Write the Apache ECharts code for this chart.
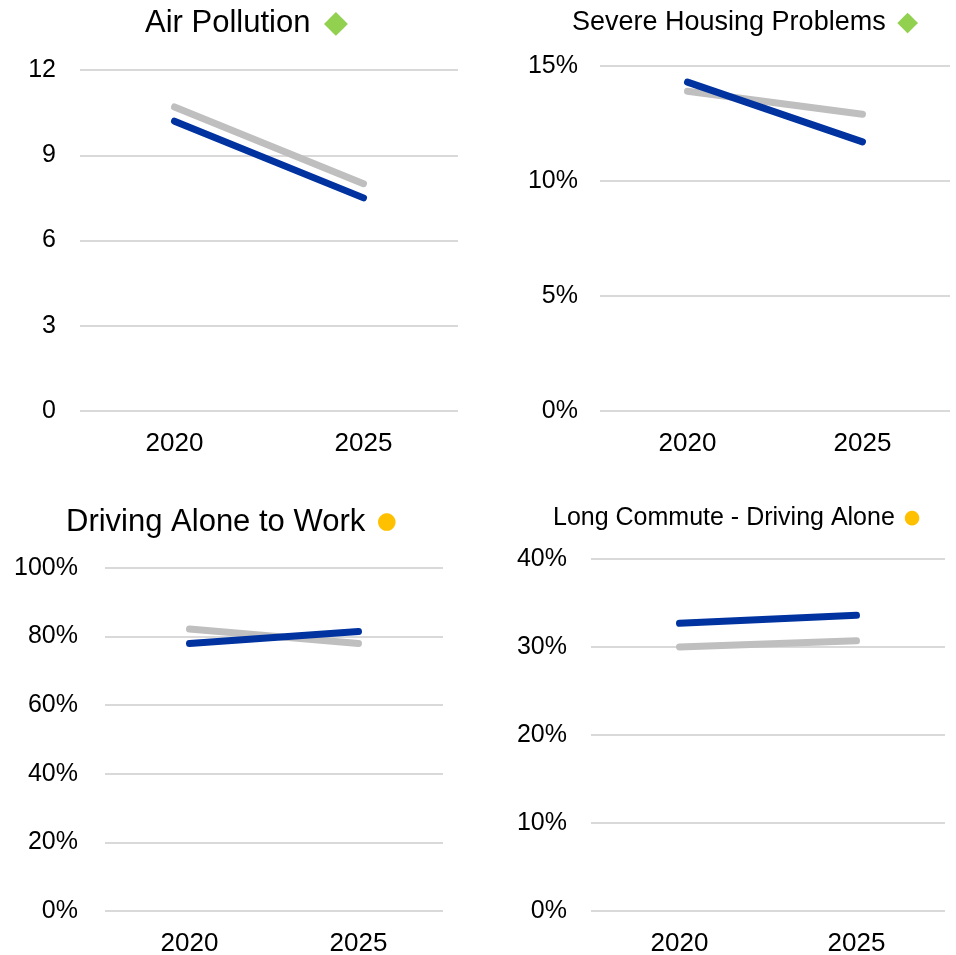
<!DOCTYPE html>
<html>
<head>
<meta charset="utf-8">
<script src="https://cdn.jsdelivr.net/npm/echarts@6/dist/echarts.min.js"></script>
<style>
html,body{margin:0;padding:0;background:#fff;}
#chart{width:956px;height:955px;}
</style>
</head>
<body>
<div id="chart"></div>
<script>
const categories = ['2020', '2025'];
const airUs = [10.2, 7.5];
const airBench = [10.7, 8.0];
const housingUs = [14.3, 11.7];
const housingBench = [13.9, 12.9];
const drivingUs = [78.0, 81.5];
const drivingBench = [82.2, 78.0];
const commuteUs = [32.7, 33.6];
const commuteBench = [30.0, 30.7];

const titles = ['Air Pollution', 'Severe Housing Problems', 'Driving Alone to Work', 'Long Commute - Driving Alone'];
const yMax = [12, 15, 100, 40];
const yInterval = [3, 5, 20, 10];
const yFormat = ['{value}', '{value}%', '{value}%', '{value}%'];

const FONT = "'Liberation Sans', Arial, sans-serif";
const BLUE = '#0033A0';
const GRAY = '#BFBFBF';
const GREEN = '#92D050';
const GOLD = '#FFC000';

const grids = [
  {left: 80, top: 70, width: 378, height: 341, outerBoundsMode: 'none', containLabel: false},
  {left: 600, top: 66, width: 350, height: 345, outerBoundsMode: 'none', containLabel: false},
  {left: 105, top: 568, width: 338, height: 343, outerBoundsMode: 'none', containLabel: false},
  {left: 591, top: 559, width: 354, height: 352, outerBoundsMode: 'none', containLabel: false}
];
const yLabelMargin = [24, 22, 27, 24];
const titleCfg = [
  {left: 145, top: 8, size: 31, sym: '◆', symColor: GREEN, symSize: 31, gap: 5},
  {left: 572, top: 9, size: 27, sym: '◆', symColor: GREEN, symSize: 27, gap: 4},
  {left: 66, top: 507, size: 31, sym: '●', symColor: GOLD, symSize: 23, gap: 3},
  {left: 553, top: 506, size: 25, sym: '●', symColor: GOLD, symSize: 19, gap: 2}
];

const usData = [airUs, housingUs, drivingUs, commuteUs];
const benchData = [airBench, housingBench, drivingBench, commuteBench];

const option = {
  animation: false,
  backgroundColor: '#fff',
  title: titles.map((t, i) => ({
    text: t + ' {s|' + titleCfg[i].sym + '}',
    left: titleCfg[i].left,
    top: titleCfg[i].top,
    padding: 0,
    textStyle: {
      fontFamily: FONT,
      fontSize: titleCfg[i].size,
      fontWeight: 'normal',
      color: '#000',
      rich: {
        s: {
          fontFamily: "'DejaVu Sans', sans-serif",
          fontSize: titleCfg[i].symSize,
          color: titleCfg[i].symColor,
          padding: [0, 0, 0, titleCfg[i].gap]
        }
      }
    }
  })),
  grid: grids,
  xAxis: grids.map((g, i) => ({
    type: 'category',
    gridIndex: i,
    data: categories,
    boundaryGap: true,
    axisLine: {show: false},
    axisTick: {show: false},
    axisLabel: {fontFamily: FONT, fontSize: 26, color: '#000', margin: 20}
  })),
  yAxis: grids.map((g, i) => ({
    type: 'value',
    gridIndex: i,
    min: 0,
    max: yMax[i],
    interval: yInterval[i],
    axisLine: {show: false},
    axisTick: {show: false},
    axisLabel: {fontFamily: FONT, fontSize: 25, color: '#000', margin: yLabelMargin[i], formatter: yFormat[i]},
    splitLine: {show: true, lineStyle: {color: '#D9D9D9', width: 2}}
  })),
  series: []
};

for (let i = 0; i < 4; i++) {
  option.series.push({
    type: 'line', xAxisIndex: i, yAxisIndex: i,
    data: benchData[i], showSymbol: false, symbol: 'none',
    lineStyle: {color: GRAY, width: 7, cap: 'round'}, z: 2
  });
  option.series.push({
    type: 'line', xAxisIndex: i, yAxisIndex: i,
    data: usData[i], showSymbol: false, symbol: 'none',
    lineStyle: {color: BLUE, width: 7, cap: 'round'}, z: 3
  });
}

const chart = echarts.init(document.getElementById('chart'), null, {renderer: 'canvas'});
chart.setOption(option);
</script>
</body>
</html>
